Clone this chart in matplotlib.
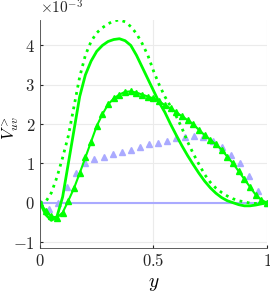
import numpy as np
import matplotlib
matplotlib.use('Agg')
import matplotlib.pyplot as plt

plt.rcParams['mathtext.fontset'] = 'cm'
plt.rcParams['font.family'] = 'serif'
plt.rcParams['font.serif'] = ['DejaVu Serif']

# values in units of 1e-3
y_line = np.linspace(0, 1, 41)
solid = [0, -0.3, -0.45, -0.35, 0.15, 1.0, 1.85, 2.7, 3.25, 3.6, 3.85, 4.0, 4.1,
         4.15, 4.17, 4.12, 4.0, 3.75, 3.45, 3.15, 2.85, 2.55, 2.3, 2.0, 1.72, 1.45,
         1.2, 0.97, 0.75, 0.55, 0.38, 0.24, 0.13, 0.05, 0.0, -0.05, -0.08, -0.08,
         -0.06, -0.03, 0]
dotted = [0, 0.02, 0.25, 0.65, 1.15, 1.7, 2.45, 3.2, 3.75, 4.1, 4.32, 4.45, 4.55,
          4.62, 4.65, 4.6, 4.48, 4.3, 4.05, 3.75, 3.35, 3.0, 2.7, 2.45, 2.2, 1.9,
          1.55, 1.25, 0.98, 0.72, 0.52, 0.37, 0.26, 0.17, 0.1, 0.05, 0.02, -0.01,
          -0.02, -0.01, 0]
tri_green = [0, -0.2, -0.35, -0.38, -0.25, 0.05, 0.37, 0.75, 1.15, 1.55, 1.95, 2.25,
             2.5, 2.65, 2.75, 2.82, 2.83, 2.8, 2.75, 2.7, 2.65, 2.58, 2.48, 2.4, 2.3,
             2.2, 2.1, 2.0, 1.85, 1.72, 1.6, 1.48, 1.35, 1.17, 1.0, 0.8, 0.6, 0.4,
             0.2, 0.07, 0]

y_lav = np.linspace(0, 1, 26)
tri_lav = [0, -0.15, 0.0, 0.4, 0.75, 1.0, 1.1, 1.17, 1.23, 1.28, 1.33, 1.42, 1.48,
           1.53, 1.58, 1.64, 1.68, 1.7, 1.68, 1.58, 1.42, 1.22, 1.0, 0.68, 0.3, 0]
zero_line = [0, 0]
y_zero = [0, 1]

green = '#00ff00'
lav = '#aaaaff'

fig = plt.figure(figsize=(2.7, 2.92), dpi=100)
ax = fig.add_axes([0.148, 0.151, 0.841, 0.781])

ax.plot(y_zero, zero_line, color=lav, lw=1.5)
ax.plot(y_lav, tri_lav, '^', color=lav, ms=4.5, mec=lav)
ax.plot(y_line, tri_green, '-^', color=green, lw=1.5, ms=4.5)
ax.plot(y_line, solid, '-', color=green, lw=2)
ax.plot(y_line, dotted, ':', color=green, lw=2)

ax.set_xlim(0, 1)
ax.set_ylim(-1.15, 4.65)
ax.set_xticks([0, 0.5, 1])
ax.set_yticks(np.arange(-1, 5))
ax.xaxis.set_major_formatter(plt.FuncFormatter(lambda v, p: '$%g$' % v))
ax.yaxis.set_major_formatter(plt.FuncFormatter(lambda v, p: '$%g$' % v))
ax.text(0.0, 1.012, r'$\times 10^{-3}$', transform=ax.transAxes, fontsize=11,
        color='#262626', va='bottom', ha='left')
ax.grid(True, color='#ebebeb', lw=0.8)
ax.set_axisbelow(True)
for s in ['top', 'right']:
    ax.spines[s].set_visible(False)
for s in ['left', 'bottom']:
    ax.spines[s].set_color('#444444')
    ax.spines[s].set_linewidth(0.6)
ax.tick_params(direction='in', length=2, labelsize=12, colors='#262626')
ax.set_xlabel('$y$', fontsize=14)
ax.set_ylabel('$V^{>}_{uv}$', fontsize=12)
ax.yaxis.set_label_coords(-0.085, 0.526)

fig.savefig('out.png', dpi=100)
